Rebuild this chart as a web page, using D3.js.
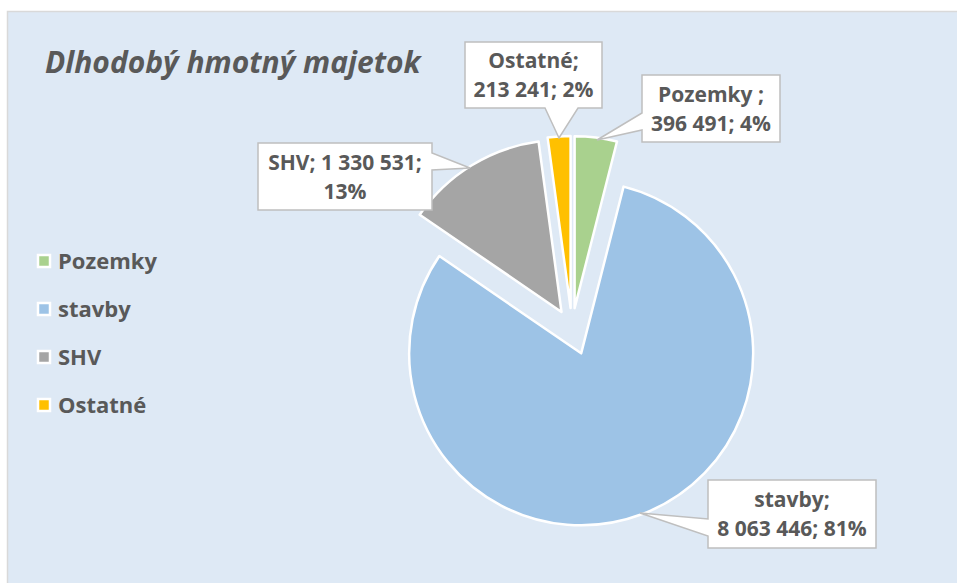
<!DOCTYPE html>
<html>
<head>
<meta charset="utf-8">
<script src="https://cdn.jsdelivr.net/npm/d3@7"></script>
<style>
  body { margin: 0; background: #ffffff; }
  svg { display: block; font-family: "Open Sans", "Noto Sans", sans-serif; }
</style>
</head>
<body>
<svg id="chart"></svg>
<script>
// chart values
var categories = ["Pozemky", "stavby", "SHV", "Ostatné"];
var values = [396491, 8063446, 1330531, 213241];
var labelNames = ["Pozemky ", "stavby", "SHV", "Ostatné"];
var colors = ["#a9d18e", "#9dc3e6", "#a5a5a5", "#ffc000"];

var width = 957;
var height = 583;

var svg = d3.select("#chart")
  .attr("width", width)
  .attr("height", height);

// chart area background
svg.append("rect")
  .attr("x", 7.5)
  .attr("y", 11.5)
  .attr("width", width)
  .attr("height", height)
  .attr("fill", "#dee9f5")
  .attr("stroke", "#d9d9d9")
  .attr("stroke-width", 1.5);

svg.append("text")
  .attr("x", 45)
  .attr("y", 73)
  .attr("fill", "#595959")
  .style("font-size", "30px")
  .style("font-weight", "bold")
  .style("font-style", "italic")
  .text("Dlhodobý hmotný majetok");

// pie
var cx = 572, cy = 329;
var radius = 172;
var explode = [21, 26, 20, 21];

var pie = d3.pie().sort(null).value(d => d)(values);
var total = d3.sum(values);
var arc = d3.arc().innerRadius(0).outerRadius(radius);

var slices = svg.append("g")
  .attr("transform", `translate(${cx},${cy})`)
  .selectAll("path")
  .data(pie)
  .join("path")
  .attr("transform", (d, i) => {
    var a = (d.startAngle + d.endAngle) / 2;
    return `translate(${Math.sin(a) * explode[i]},${-Math.cos(a) * explode[i]})`;
  })
  .attr("d", arc)
  .attr("fill", (d, i) => colors[i])
  .attr("stroke", "#ffffff")
  .attr("stroke-width", 2.5)
  .attr("stroke-linejoin", "round");

// data label callouts: box + pointer tip
var callouts = [
  { box: [642, 75, 138, 67], side: "left", wedge: [113, 130], tip: [597, 140] },
  { box: [708, 480, 168, 68], side: "left", wedge: [519, 536], tip: [640, 513] },
  { box: [258, 143, 174, 67], side: "right", wedge: [153, 170], tip: [470, 168] },
  { box: [465, 42, 137, 66], side: "bottom", wedge: [545, 578], tip: [559, 138] }
];

function calloutPath(c) {
  var x = c.box[0], y = c.box[1], w = c.box[2], h = c.box[3];
  var p = d3.path();
  p.moveTo(x, y);
  p.lineTo(x + w, y);
  if (c.side === "right") {
    p.lineTo(x + w, c.wedge[0]);
    p.lineTo(c.tip[0], c.tip[1]);
    p.lineTo(x + w, c.wedge[1]);
  }
  p.lineTo(x + w, y + h);
  if (c.side === "bottom") {
    p.lineTo(c.wedge[1], y + h);
    p.lineTo(c.tip[0], c.tip[1]);
    p.lineTo(c.wedge[0], y + h);
  }
  p.lineTo(x, y + h);
  if (c.side === "left") {
    p.lineTo(x, c.wedge[1]);
    p.lineTo(c.tip[0], c.tip[1]);
    p.lineTo(x, c.wedge[0]);
  }
  p.closePath();
  return p.toString();
}

var fmt = v => d3.format(",")(v).replace(/,/g, " ");

var labels = svg.append("g")
  .selectAll("g")
  .data(pie)
  .join("g");

labels.append("path")
  .attr("d", (d, i) => calloutPath(callouts[i]))
  .attr("fill", "#ffffff")
  .attr("stroke", "#bfbfbf")
  .attr("stroke-width", 1.5);

labels.each(function (d, i) {
  var c = callouts[i];
  var bx = c.box[0] + c.box[2] / 2;
  var by = c.box[1] + c.box[3] / 2;
  var pct = Math.round(d.value / total * 100) + "%";
  var lines;
  if (i === 2) {
    lines = [labelNames[i] + "; " + fmt(d.value) + ";", pct];
  } else {
    lines = [labelNames[i] + ";", fmt(d.value) + "; " + pct];
  }
  d3.select(this).selectAll("text")
    .data(lines)
    .join("text")
    .attr("x", bx)
    .attr("y", (t, j) => by - 7 + j * 29)
    .attr("text-anchor", "middle")
    .attr("fill", "#595959")
    .style("font-size", "21px")
    .style("font-weight", "bold")
    .text(t => t);
});

// legend
var legend = svg.append("g")
  .selectAll("g")
  .data(categories)
  .join("g")
  .attr("transform", (d, i) => `translate(38,${261 + i * 48})`);

legend.append("rect")
  .attr("x", 0)
  .attr("y", -6)
  .attr("width", 12)
  .attr("height", 12)
  .attr("fill", (d, i) => colors[i])
  .attr("stroke", "#ffffff")
  .attr("stroke-width", 2.5);

legend.append("text")
  .attr("x", 20)
  .attr("y", 8)
  .attr("fill", "#595959")
  .style("font-size", "22px")
  .style("font-weight", "bold")
  .text(d => d);
</script>
</body>
</html>
